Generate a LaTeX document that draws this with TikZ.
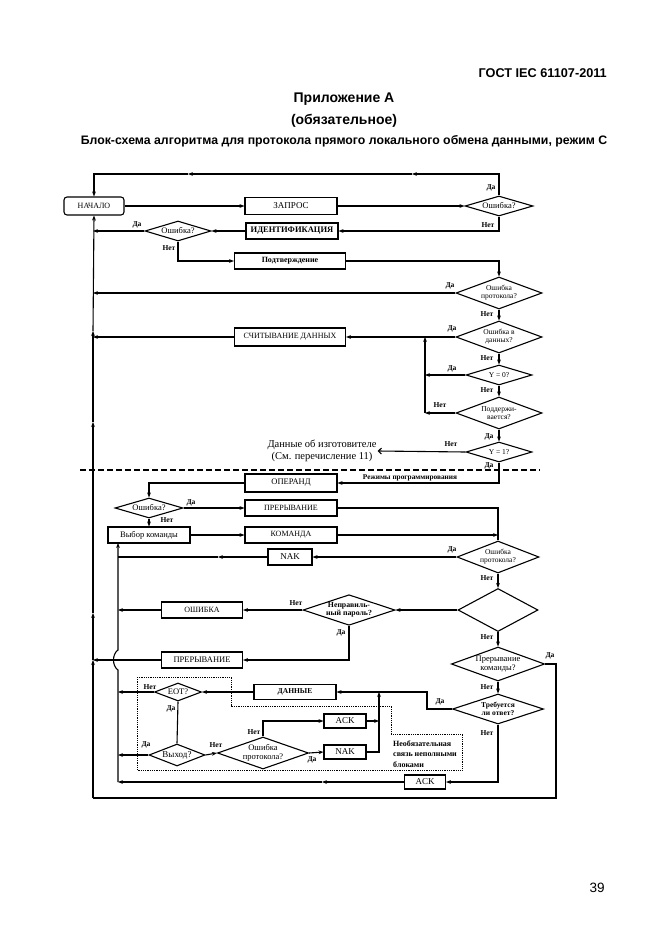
\documentclass[tikz,border=0pt]{standalone}
\usepackage{fontspec}
\setmainfont{Liberation Serif}
\setsansfont{Liberation Sans}
\usetikzlibrary{shapes.geometric,arrows.meta}
\tikzstyle{box}=[rectangle,draw=black,line width=1.1pt,inner sep=1pt,
  font=\fontsize{8}{9}\selectfont]
\tikzstyle{rbox}=[box,rounded corners=3pt]
\tikzstyle{dm}=[diamond,draw=black,line width=1.1pt,inner sep=0pt,aspect=3,
  align=center,font=\fontsize{7.5}{8}\selectfont]
\tikzstyle{lbl}=[inner sep=0pt,font=\bfseries\fontsize{7.5}{8}\selectfont]
\tikzstyle{txt}=[inner sep=1pt,align=center]
\tikzstyle{hd}=[inner sep=0pt,font=\sffamily\bfseries\fontsize{14}{16}\selectfont]
\tikzstyle{ln}=[line width=1.1pt]
\tikzstyle{ar}=[ln,-{Stealth[length=5pt,width=3.8pt]}]
\tikzstyle{none}=[]

\begin{document}
\begin{tikzpicture}[x=1pt,y=-1pt]
        \useasboundingbox (0,0) rectangle (661,936);
        \node [style=hd,anchor=east,font=\sffamily\bfseries\fontsize{12.7}{14}\selectfont] (100) at (607,73) {ГОСТ IEC 61107-2011};
        \node [style=hd] (101) at (344,99) {Приложение А};
        \node [style=hd] (102) at (344,121) {(обязательное)};
        \node [style=hd,font=\sffamily\bfseries\fontsize{12.3}{14}\selectfont] (103) at (344,141) {Блок-схема алгоритма для протокола прямого локального обмена данными, режим С};
        \node [style=none,font=\sffamily\fontsize{13.5}{15}\selectfont] (104) at (597,888) {39};

        \node [style=rbox,minimum width=60pt,minimum height=18pt] (0) at (94,206) {НАЧАЛО};
        \node [style=box,minimum width=92pt,minimum height=17pt,font=\fontsize{9}{10}\selectfont] (1) at (291,206) {ЗАПРОС};
        \node [style=dm,minimum width=68pt,minimum height=20pt,font=\fontsize{8.5}{9}\selectfont] (2) at (499,206) {Ошибка?};
        \node [style=box,minimum width=92pt,minimum height=16pt,font=\bfseries\fontsize{8.5}{9}\selectfont] (3) at (292,231) {ИДЕНТИФИКАЦИЯ};
        \node [style=dm,minimum width=66pt,minimum height=20pt,font=\fontsize{8.5}{9}\selectfont] (4) at (178,231) {Ошибка?};
        \node [style=box,minimum width=111pt,minimum height=16pt,font=\bfseries\fontsize{8}{9}\selectfont] (5) at (290,261) {Подтверждение};
        \node [style=dm,minimum width=86pt,minimum height=32pt] (6) at (499,293) {Ошибка\\протокола?};
        \node [style=dm,minimum width=86pt,minimum height=32pt] (7) at (499,337) {Ошибка в\\данных?};
        \node [style=box,minimum width=111pt,minimum height=18pt] (8) at (290,337) {СЧИТЫВАНИЕ ДАННЫХ};
        \node [style=dm,minimum width=66pt,minimum height=20pt] (9) at (499,375) {Y = 0?};
        \node [style=dm,minimum width=86pt,minimum height=32pt] (10) at (499,413) {Поддержи-\\вается?};
        \node [style=dm,minimum width=66pt,minimum height=20pt] (11) at (499,452) {Y = 1?};
        \node [style=txt,font=\fontsize{10.5}{12.5}\selectfont] (12) at (322,451) {Данные об изготовителе\\(См. перечисление 11)};
        \node [style=box,minimum width=92pt,minimum height=18pt,font=\fontsize{8.5}{9}\selectfont] (13) at (291,483) {ОПЕРАНД};
        \node [style=txt,font=\bfseries\fontsize{7.3}{8}\selectfont] (14) at (410,478) {Режимы программирования};
        \node [style=dm,minimum width=68pt,minimum height=20pt,font=\fontsize{8.5}{9}\selectfont] (15) at (149,508) {Ошибка?};
        \node [style=box,minimum width=92pt,minimum height=16pt] (16) at (291,508) {ПРЕРЫВАНИЕ};
        \node [style=box,minimum width=82pt,minimum height=16pt,font=\fontsize{8.5}{9}\selectfont] (17) at (149,535) {Выбор команды};
        \node [style=box,minimum width=92pt,minimum height=16pt] (18) at (291,535) {КОМАНДА};
        \node [style=dm,minimum width=82pt,minimum height=32pt] (19) at (498,557) {Ошибка\\протокола?};
        \node [style=box,minimum width=44pt,minimum height=16pt,font=\fontsize{9}{10}\selectfont] (20) at (290,557) {NAK};
        \node [style=dm,minimum width=80pt,minimum height=43pt] (21) at (498,610) {};
        \node [style=dm,minimum width=92pt,minimum height=30pt,font=\bfseries\fontsize{7.8}{8.5}\selectfont] (22) at (349,610) {Неправиль-\\ный пароль?};
        \node [style=box,minimum width=81pt,minimum height=16pt] (23) at (202,610) {ОШИБКА};
        \node [style=box,minimum width=81pt,minimum height=16pt,font=\fontsize{8.5}{9}\selectfont] (24) at (202,660) {ПРЕРЫВАНИЕ};
        \node [style=dm,minimum width=93pt,minimum height=34pt,font=\fontsize{8.5}{9}\selectfont] (25) at (498,664) {Прерывание\\команды?};
        \node [style=dm,minimum width=91pt,minimum height=30pt,font=\bfseries\fontsize{7.5}{8.5}\selectfont] (26) at (498,709) {Требуется\\ли ответ?};
        \node [style=box,minimum width=82pt,minimum height=15pt,font=\bfseries\fontsize{7.5}{8}\selectfont] (27) at (295,692) {ДАННЫЕ};
        \node [style=dm,minimum width=47pt,minimum height=18pt,font=\fontsize{8.5}{9}\selectfont] (28) at (178,692) {EOT?};
        \node [style=dm,minimum width=56pt,minimum height=22pt,font=\fontsize{9}{10}\selectfont] (29) at (177,755) {Выход?};
        \node [style=dm,minimum width=82pt,minimum height=32pt,font=\fontsize{8.5}{9}\selectfont] (30) at (263,753) {Ошибка\\протокола?};
        \node [style=box,minimum width=42pt,minimum height=14pt,font=\fontsize{9}{10}\selectfont] (31) at (345,721) {ACK};
        \node [style=box,minimum width=42pt,minimum height=14pt,font=\fontsize{9}{10}\selectfont] (32) at (345,752) {NAK};
        \node [style=box,minimum width=41pt,minimum height=14pt,font=\fontsize{9}{10}\selectfont] (33) at (425,782) {ACK};
        \node [style=txt,anchor=west,align=left,font=\bfseries\fontsize{8}{10.5}\selectfont] (34) at (392,754) {Необязательная\\связь неполными\\блоками};

        \node [style=lbl] (40) at (491,188) {Да};
        \node [style=lbl] (41) at (488,225) {Нет};
        \node [style=lbl] (42) at (137,225) {Да};
        \node [style=lbl] (43) at (169,248) {Нет};
        \node [style=lbl] (44) at (450,286) {Да};
        \node [style=lbl] (45) at (487,314) {Нет};
        \node [style=lbl] (46) at (452,329) {Да};
        \node [style=lbl] (47) at (487,358) {Нет};
        \node [style=lbl] (48) at (452,369) {Да};
        \node [style=lbl] (49) at (487,390) {Нет};
        \node [style=lbl] (50) at (440,405) {Нет};
        \node [style=lbl] (51) at (489,437) {Да};
        \node [style=lbl] (52) at (451,444) {Нет};
        \node [style=lbl] (53) at (489,466) {Да};
        \node [style=lbl] (54) at (191,503) {Да};
        \node [style=lbl] (55) at (167,520) {Нет};
        \node [style=lbl] (56) at (452,550) {Да};
        \node [style=lbl] (57) at (487,578) {Нет};
        \node [style=lbl] (58) at (296,603) {Нет};
        \node [style=lbl] (59) at (341,633) {Да};
        \node [style=lbl] (60) at (487,637) {Нет};
        \node [style=lbl] (61) at (550,656) {Да};
        \node [style=lbl] (62) at (487,687) {Нет};
        \node [style=lbl] (63) at (440,702) {Да};
        \node [style=lbl] (64) at (487,733) {Нет};
        \node [style=lbl] (65) at (150,687) {Нет};
        \node [style=lbl] (66) at (171,709) {Да};
        \node [style=lbl] (67) at (146,745) {Да};
        \node [style=lbl] (68) at (216,745) {Нет};
        \node [style=lbl] (69) at (254,732) {Нет};
        \node [style=lbl] (70) at (312,760) {Да};

        \coordinate (80) at (412,174);
        \coordinate (81) at (188,174);
        \coordinate (82) at (93,231);
        \coordinate (83) at (93,293);
        \coordinate (84) at (93,337);
        \coordinate (85) at (425,375);
        \coordinate (86) at (425,413);
        \coordinate (87) at (425,337);
        \coordinate (88) at (218,557);
        \coordinate (89) at (118,557);
        \coordinate (90) at (118,610);
        \coordinate (91) at (93,660);
        \coordinate (92) at (118,543);
        \coordinate (93) at (118,692);
        \coordinate (94) at (118,755);
        \coordinate (95) at (118,782);
        \coordinate (96) at (322,782);
        \coordinate (97) at (427,692);
        \coordinate (98) at (379,692);
        \coordinate (99) at (379,721);
        \coordinate (105) at (556,798);
        \coordinate (106) at (93,798);
        \coordinate (107) at (93,613);
        \coordinate (108) at (93,422);
        \coordinate (109) at (93,331);
        \coordinate (110) at (498,535);
        \coordinate (111) at (118,670);
        \coordinate (112) at (118,650);

        \draw [style=ar] (0.east) to (1.west);
        \draw [style=ar] (1.east) to (2.west);
        \draw [style=ar] (2.north) |- (80);
        \draw [style=ar] (80) to (81);
        \draw [style=ar] (81) -| (0.north);
        \draw [style=ar] (2.south) |- (3.east);
        \draw [style=ar] (3.west) to (4.east);
        \draw [style=ar] (4.west) to (82);
        \draw [style=ar] (4.south) |- (5.west);
        \draw [style=ar] (5.east) -| (6.north);
        \draw [style=ar] (6.west) to (83);
        \draw [style=ar] (6.south) to (7.north);
        \draw [style=ar] (7.west) to (8.east);
        \draw [style=ar] (8.west) to (84);
        \draw [style=ar] (7.south) to (9.north);
        \draw [style=ar] (9.west) to (85);
        \draw [style=ar] (9.south) to (10.north);
        \draw [style=ar] (10.west) to (86);
        \draw [style=ar] (86) to (87);
        \draw [style=ar] (10.south) to (11.north);
        \draw [style=ln,-{Straight Barb[length=3pt,width=6pt]}] (11.west) to (12.east);
        \draw [style=ar] (11.south) |- (13.east);
        \draw [style=ar] (13.west) -| (15.north);
        \draw [style=ar] (15.east) to (16.west);
        \draw [style=ar] (15.south) to (17.north);
        \draw [style=ar] (17.east) to (18.west);
        \draw [style=ln] (16.east) -| (19.north);
        \draw [style=ar] (18.east) to (110);
        \draw [style=ar] (19.west) to (20.east);
        \draw [style=ar] (20.west) to (88);
        \draw [style=ln] (88) to (89);
        \draw [style=ar] (19.south) to (21.north);
        \draw [style=ar] (21.west) to (22.east);
        \draw [style=ar] (22.west) to (23.east);
        \draw [style=ar] (23.west) to (90);
        \draw [style=ar] (22.south) |- (24.east);
        \draw [style=ar] (24.west) to (91);
        \draw [style=ar] (21.south) to (25.north);
        \draw [style=ln] (25.east) -| (105) to (106);
        \draw [style=ar] (106) to (91);
        \draw [style=ar] (91) to (107);
        \draw [style=ar] (107) to (108);
        \draw [style=ar] (108) to (109);
        \draw [style=ar] (109) to (0.south);
        \draw [style=ar] (25.south) to (26.north);
        \draw [style=ar] (26.west) -| (97) to (27.east);
        \draw [style=ar] (27.west) to (28.east);
        \draw [style=ar] (28.west) to (93);
        \draw [style=ln] (28.south) to (29.north);
        \draw [style=ar] (29.west) to (94);
        \draw [style=ar] (29.east) to (30.west);
        \draw [style=ar] (30.north) |- (31.west);
        \draw [style=ar] (30.east) to (32.west);
        \draw [style=ar] (31.east) to (99);
        \draw [style=ar] (32.east) -| (98);
        \draw [style=ar] (26.south) |- (33.east);
        \draw [style=ar] (33.west) to (96);
        \draw [style=ar] (96) to (95);
        \draw [style=ar] (95) -- (111) .. controls (112,666) and (112,654) .. (112) -- (92);

        \draw [densely dotted,line width=0.8pt] (137,677) -- (231,677) -- (231,706) -- (391,706) -- (391,734) -- (462,734) -- (462,770) -- (137,770) -- cycle;
        \draw [line width=1.1pt,dash pattern=on 6pt off 3pt] (80,470) -- (540,470);
    \end{tikzpicture}
\end{document}
